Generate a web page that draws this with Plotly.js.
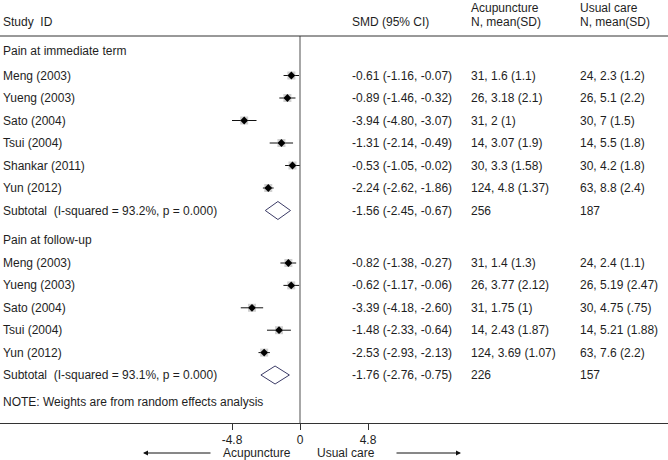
<!DOCTYPE html>
<html>
<head>
<meta charset="utf-8">
<script src="https://cdn.plot.ly/plotly-3.0.1.min.js"></script>
<style>body{margin:0;background:#fff}</style>
</head>
<body>
<div id="graph1" style="width:668px;height:460px"></div>
<script>
// pain at immediate term
var studiesA = ['Meng (2003)', 'Yueng (2003)', 'Sato (2004)', 'Tsui (2004)', 'Shankar (2011)', 'Yun (2012)'];
var smdA = [-0.61, -0.89, -3.94, -1.31, -0.53, -2.24];
var loA = [-1.16, -1.46, -4.80, -2.14, -1.05, -2.62];
var hiA = [-0.07, -0.32, -3.07, -0.49, -0.02, -1.86];
var acuA = ['31, 1.6 (1.1)', '26, 3.18 (2.1)', '31, 2 (1)', '14, 3.07 (1.9)', '30, 3.3 (1.58)', '124, 4.8 (1.37)'];
var usualA = ['24, 2.3 (1.2)', '26, 5.1 (2.2)', '30, 7 (1.5)', '14, 5.5 (1.8)', '30, 4.2 (1.8)', '63, 8.8 (2.4)'];
var subA = {smd: -1.56, lo: -2.45, hi: -0.67, nAcu: '256', nUsual: '187', i2: '93.2%', p: '0.000'};

// pain at follow-up
var studiesB = ['Meng (2003)', 'Yueng (2003)', 'Sato (2004)', 'Tsui (2004)', 'Yun (2012)'];
var smdB = [-0.82, -0.62, -3.39, -1.48, -2.53];
var loB = [-1.38, -1.17, -4.18, -2.33, -2.93];
var hiB = [-0.27, -0.06, -2.60, -0.64, -2.13];
var acuB = ['31, 1.4 (1.3)', '26, 3.77 (2.12)', '31, 1.75 (1)', '14, 2.43 (1.87)', '124, 3.69 (1.07)'];
var usualB = ['24, 2.4 (1.1)', '26, 5.19 (2.47)', '30, 4.75 (.75)', '14, 5.21 (1.88)', '63, 7.6 (2.2)'];
var subB = {smd: -1.76, lo: -2.76, hi: -0.75, nAcu: '226', nUsual: '157', i2: '93.1%', p: '0.000'};

var tickVals = [-4.8, 0, 4.8];
var tickText = ['-4.8', '0', '4.8'];

var W = 668, H = 460;
var pxPerUnit = 68 / 4.8, zeroPx = 300;
var xr = [-zeroPx / pxPerUnit, (W - zeroPx) / pxPerUnit];
var font = {family: 'Liberation Sans, Arial, sans-serif', size: 12, color: '#1e1e1e'};

function fmt(v) { return v.toFixed(2); }
function ci(s, l, h) { return fmt(s) + ' (' + fmt(l) + ', ' + fmt(h) + ')'; }

var ann = [];
function txt(px, y, t) {
    ann.push({xref: 'paper', yref: 'y', x: px / W, y: y, text: t, showarrow: false,
        xanchor: 'left', yanchor: 'middle', font: font});
}

// header
txt(1, 22, 'Study\u00a0 ID');
txt(350, 22, 'SMD (95% CI)');
txt(469, 8, 'Acupuncture');
txt(469, 22, 'N, mean(SD)');
txt(578, 8, 'Usual care');
txt(578, 22, 'N, mean(SD)');

var traces = [];
function block(headY, y0, step, title, names, smd, lo, hi, acu, usual, sub) {
    txt(1, headY, title);
    var ys = names.map((n, i) => y0 + i * step);
    names.forEach((n, i) => {
        txt(1, ys[i], n);
        txt(350, ys[i], ci(smd[i], lo[i], hi[i]));
        txt(469, ys[i], acu[i]);
        txt(578, ys[i], usual[i]);
    });
    var sy = y0 + names.length * step;
    txt(1, sy, 'Subtotal\u00a0 (I-squared = ' + sub.i2 + ', p = ' + sub.p + ')');
    txt(350, sy, ci(sub.smd, sub.lo, sub.hi));
    txt(469, sy, sub.nAcu);
    txt(578, sy, sub.nUsual);

    traces.push({
        type: 'scatter', mode: 'markers', x: smd, y: ys,
        marker: {size: 1, color: 'rgba(0,0,0,0)'},
        error_x: {type: 'data', symmetric: false,
            array: smd.map((s, i) => hi[i] - s),
            arrayminus: smd.map((s, i) => s - lo[i]),
            color: '#111', thickness: 1, width: 0},
        hoverinfo: 'skip'
    });
    traces.push({
        type: 'scatter', mode: 'markers', x: smd, y: ys,
        marker: {symbol: 'square', size: 8, color: 'rgba(170,170,170,0.55)'},
        hoverinfo: 'skip'
    });
    traces.push({
        type: 'scatter', mode: 'markers', x: smd, y: ys,
        marker: {symbol: 'diamond', size: 6, color: '#000'},
        hoverinfo: 'skip'
    });
    traces.push({
        type: 'scatter', mode: 'lines',
        x: [sub.lo, sub.smd, sub.hi, sub.smd, sub.lo],
        y: [sy, sy - 9, sy, sy + 9, sy],
        line: {color: '#3b3b66', width: 1},
        hoverinfo: 'skip'
    });
}

block(51, 75.5, 22.5, 'Pain at immediate term', studiesA, smdA, loA, hiA, acuA, usualA, subA);
block(240, 263, 22.4, 'Pain at follow-up', studiesB, smdB, loB, hiB, acuB, usualB, subB);

txt(1, 402, 'NOTE: Weights are from random effects analysis');

// direction labels and arrows
ann.push({xref: 'paper', yref: 'y', x: 257 / W, y: 453, text: 'Acupuncture', showarrow: false,
    xanchor: 'center', yanchor: 'middle', font: font});
ann.push({xref: 'paper', yref: 'y', x: 346 / W, y: 453, text: 'Usual care', showarrow: false,
    xanchor: 'center', yanchor: 'middle', font: font});
ann.push({xref: 'paper', yref: 'y', x: 143 / W, y: 453, text: '', showarrow: true,
    ax: 69, ay: 0, arrowhead: 2, arrowsize: 1, arrowwidth: 1, arrowcolor: '#111'});
ann.push({xref: 'paper', yref: 'y', x: 461 / W, y: 453, text: '', showarrow: true,
    ax: -66, ay: 0, arrowhead: 2, arrowsize: 1, arrowwidth: 1, arrowcolor: '#111'});

var layout1 = {
    width: W, height: H,
    margin: {l: 0, r: 0, t: 0, b: 0, pad: 0},
    showlegend: false,
    paper_bgcolor: '#fff', plot_bgcolor: '#fff',
    font: font,
    xaxis: {
        range: xr, anchor: 'free', position: (H - 423) / H,
        showgrid: false, zeroline: false, showline: true, linecolor: '#333', linewidth: 1,
        ticks: 'outside', ticklen: 6, tickcolor: '#333', tickwidth: 1,
        tickvals: tickVals, ticktext: tickText, tickfont: font, fixedrange: true
    },
    yaxis: {range: [H, 0], visible: false, fixedrange: true},
    shapes: [
        {type: 'line', xref: 'paper', yref: 'y', x0: 0, x1: 1, y0: 36, y1: 36,
            line: {color: '#333', width: 1}},
        {type: 'line', xref: 'x', yref: 'y', x0: 0, x1: 0, y0: 36, y1: 423,
            line: {color: '#8a8a8a', width: 1.5}, layer: 'below'}
    ],
    annotations: ann
};

Plotly.newPlot('graph1', traces, layout1, {staticPlot: true});
</script>
</body>
</html>
